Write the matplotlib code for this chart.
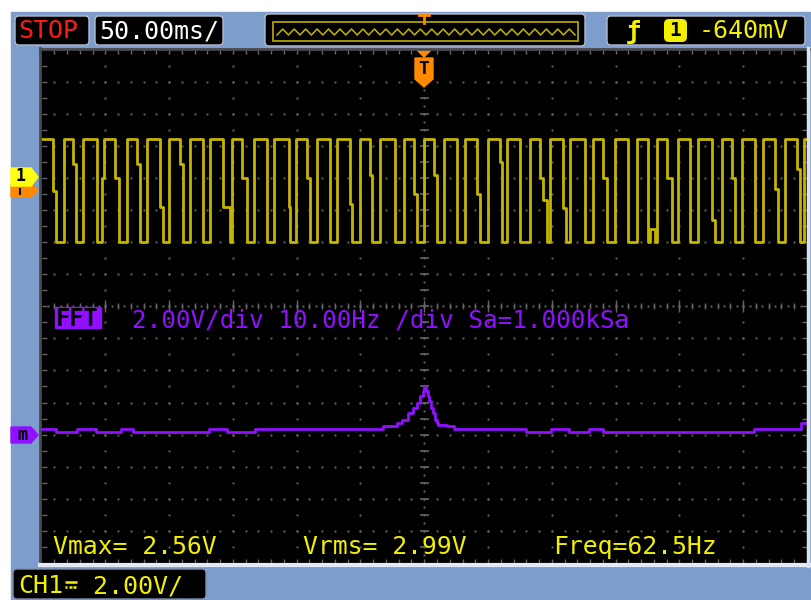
import matplotlib
matplotlib.use("Agg")
import matplotlib.pyplot as plt
import numpy as np
from matplotlib.patches import FancyBboxPatch, Polygon, Rectangle

# channel 1 trace: time (ms) where the level changes, level (V) from there on
ch1_t = [-300.0, -290.8, -289.0, -282.5, -275.2, -272.6, -267.3, -256.4, -252.5, -251.2,
         -242.0, -239.5, -232.9, -225.0, -222.5, -217.2, -206.8, -204.4, -200.3, -191.1,
         -189.0, -183.3, -173.1, -167.6, -157.7, -152.2, -150.4, -142.8, -138.9, -133.7,
         -123.2, -117.5, -106.3, -105.0, -100.3, -91.9, -89.3, -84.0, -73.6, -68.4,
         -58.0, -56.6, -50.1, -42.3, -41.0, -34.5, -22.7, -16.2, -8.4, -5.5,
         -0.5, 7.3, 9.9, 15.1, 25.6, 32.1, 41.3, 43.9, 50.1, 59.5,
         60.9, 64.8, 75.2, 83.0, 90.9, 93.4, 96.1, 98.7, 109.1, 111.2,
         114.4, 126.1, 132.6, 140.4, 143.1, 149.6, 160.0, 166.6, 175.7, 177.0,
         180.9, 182.7, 190.1, 194.0, 199.2, 208.4, 214.9, 225.4, 227.9, 233.2,
         241.0, 243.6, 248.9, 259.3, 265.8, 274.9, 277.5, 282.8, 291.9, 294.5,
         297.3, 299.5]
ch1_v = [1.2, -0.4, -2.0, 1.2, 0.44, -2.0, 1.2, -2.0, 0.0, 1.2,
         0.0, -2.0, 1.2, 0.44, -2.0, 1.2, -0.9, -2.0, 1.2, 0.44,
         -2.0, 1.2, -2.0, 1.2, -0.9, -2.0, 1.2, 0.0, -2.0, 1.2,
         -2.0, 1.2, -0.9, -2.0, 1.2, 0.0, -2.0, 1.2, -2.0, 1.2,
         -0.8, -2.0, 1.2, 0.1, -2.0, 1.2, -2.0, 1.2, -0.5, -2.0,
         1.2, 0.1, -2.0, 1.2, -2.0, 1.2, -0.5, -2.0, 1.2, 0.5,
         -2.0, 1.2, -2.0, 1.2, 0.0, -0.7, -2.0, 1.2, -0.95, -2.0,
         1.2, -2.0, 1.2, 0.0, -2.0, 1.2, -2.0, 1.2, -2.0, -1.6,
         -2.0, 1.2, 0.0, -2.0, 1.2, -2.0, 1.2, -1.3, -2.0, 1.2,
         0.0, -2.0, 1.2, -2.0, 1.2, -0.35, -2.0, 1.2, 0.28, -2.0,
         1.2, 1.2]

# FFT trace: frequency (Hz) where the level changes, magnitude (V)
fft_f = [2.5, 4.7, 8.1, 11.0, 14.9, 16.8, 28.7, 31.6, 36.0, 56.1, 58.3, 59.0,
         60.0, 60.8, 61.4, 61.9, 62.3, 62.5, 62.8, 63.1, 63.3, 63.6, 63.9, 64.2,
         64.5, 64.7, 66.0, 67.2, 78.5, 82.4, 85.2, 88.4, 90.5, 114.2, 121.6, 122.5]
fft_v = [0.16, 0.07, 0.16, 0.07, 0.18, 0.07, 0.18, 0.08, 0.18, 0.26, 0.36, 0.47,
         0.68, 0.83, 0.99, 1.20, 1.35, 1.47, 1.35, 1.20, 1.04, 0.83, 0.68, 0.47,
         0.36, 0.31, 0.26, 0.18, 0.07, 0.18, 0.07, 0.18, 0.07, 0.18, 0.375, 0.375]

time_per_div = 50.0      # ms
ch1_volts_per_div = 2.0
ch1_offset_div = 2.0
fft_volts_per_div = 2.0
fft_offset_div = -2.0
fft_hz_per_div = 10.0
fft_center = 62.5

fft_label = "2.00V/div 10.00Hz /div Sa=1.000kSa"
measurements = ["Vmax= 2.56V", "Vrms= 2.99V", "Freq=62.5Hz"]
ch_name = "CH1"
ch_scale = " 2.00V/"   # after the DC coupling sign, which no installed font has

BLUE = '#7d9dcc'
YEL = '#f2f000'
TRACE = '#c4b400'
PURP = '#9010ff'
ORANGE = '#ff8a00'
GRID = '#666666'
MONO = 'DejaVu Sans Mono'

W, H = 812, 600
fig = plt.figure(figsize=(W / 100, H / 100), dpi=100)
fig.patch.set_facecolor('white')


def px_axes(z):
    a = fig.add_axes([0, 0, 1, 1], zorder=z)
    a.set_xlim(0, W)
    a.set_ylim(H, 0)
    a.axis('off')
    a.patch.set_alpha(0)
    return a


def rbox(ax, x0, y0, x1, y1, fc, ec='none', r=4, lw=1):
    ax.add_patch(FancyBboxPatch((x0, y0), x1 - x0, y1 - y0,
                                boxstyle='round,pad=0,rounding_size=%g' % r,
                                fc=fc, ec=ec, lw=lw))


bg = px_axes(0)
bg.add_patch(Rectangle((11, 12), W - 11, H - 12, color=BLUE))

# scope screen, in divisions
L, R, T, B = 41.5, 807, 49.5, 563
rect = [L / W, 1 - B / H, (R - L) / W, (B - T) / H]
scr = fig.add_axes(rect, zorder=1)
scr.set_facecolor('black')
scr.set_xlim(-6, 6)
scr.set_ylim(-4, 4)
scr.set_xticks([])
scr.set_yticks([])
for s in scr.spines.values():
    s.set_visible(False)

dot = dict(ls='none', marker='s', ms=1.4, mew=0, color=GRID)
xs = np.arange(-5.8, 5.81, 0.2)
ys = np.arange(-3.75, 3.76, 0.25)
for y in np.arange(-3.5, 3.51, 0.5):
    if abs(y) > 0.01:
        scr.plot(xs, np.full_like(xs, y), **dot)
for x in range(-5, 6):
    if x != 0:
        scr.plot(np.full_like(ys, x), ys, **dot)
# centre cross
fine = np.arange(-5.9, 5.91, 0.1)
scr.plot(fine, np.zeros_like(fine), **dot)
scr.vlines(xs, -0.05, 0.05, color=GRID, lw=1)
scr.vlines(np.arange(-5, 6), -0.09, 0.09, color=GRID, lw=1)
finey = np.arange(-3.875, 3.88, 0.125)
scr.plot(np.zeros_like(finey), finey, **dot)
scr.hlines(ys, -0.07, 0.07, color=GRID, lw=1.2)
# edge ticks
scr.vlines(xs, 3.93, 4, color=GRID, lw=1)
scr.vlines(xs, -4, -3.93, color=GRID, lw=1)
scr.hlines(ys, -6, -5.92, color=GRID, lw=1)
scr.hlines(ys, 5.92, 6, color=GRID, lw=1)

# channel 1
ax1 = fig.add_axes(rect, zorder=2)
ax1.set_xlim(-6 * time_per_div, 6 * time_per_div)
ax1.set_ylim((-4 - ch1_offset_div) * ch1_volts_per_div, (4 - ch1_offset_div) * ch1_volts_per_div)
ax1.axis('off')
ax1.patch.set_alpha(0)
ax1.plot(ch1_t, ch1_v, drawstyle='steps-post', color=TRACE, lw=2)

# FFT
axf = fig.add_axes(rect, zorder=3)
axf.set_xlim(fft_center - 6 * fft_hz_per_div, fft_center + 6 * fft_hz_per_div)
axf.set_ylim((-4 - fft_offset_div) * fft_volts_per_div, (4 - fft_offset_div) * fft_volts_per_div)
axf.axis('off')
axf.patch.set_alpha(0)
axf.plot(fft_f, fft_v, drawstyle='steps-post', color=PURP, lw=2)

ui = px_axes(5)
# screen frame
ui.plot([40, 809], [49, 49], color='#4a4a4a', lw=2)
ui.plot([40.5, 40.5], [48, 565], color='#4a4a4a', lw=2)
ui.plot([40, 810], [564.5, 564.5], color='#e4eaf4', lw=3)
ui.plot([808.5, 808.5], [48, 566], color='#dce3ee', lw=2.5)

# top bar
rbox(ui, 15, 16, 89, 45, 'black', '#b4bccc')
ui.text(18, 38.5, 'STOP', color='#ff1a1a', family=MONO, fontsize=18)
rbox(ui, 95, 16, 223, 45, 'black', '#b4bccc')
ui.text(99, 38.5, '50.00ms/', color='white', family=MONO, fontsize=18)
rbox(ui, 265, 14, 585, 46, 'black', '#b4bccc')
ui.add_patch(Rectangle((273, 22), 305, 19, fill=False, ec='#b0a000', lw=1.3))
zx = np.linspace(277, 575, 53)
zy = np.where(np.arange(53) % 2 == 0, 35, 29)
ui.plot(zx, zy, color='#c4b400', lw=1.1)
ui.plot([419, 429], [15, 15], color=ORANGE, lw=2)
ui.plot([424, 424], [15, 23], color=ORANGE, lw=2)
rbox(ui, 607, 16, 805, 45, 'black', '#b4bccc')
ui.text(626, 38.5, '\u0192', color=YEL, family=MONO, fontsize=18, weight='bold')
rbox(ui, 664, 19, 687, 42, YEL, r=5)
ui.text(675.5, 31, '1', color='black', family=MONO, fontsize=14, weight='bold',
        ha='center', va='center')
ui.text(699, 38.5, '-640mV', color=YEL, family=MONO, fontsize=18)

# trigger marker on screen
ui.add_patch(Polygon([(417, 50), (431, 50), (424, 57)], color=ORANGE))
ui.add_patch(Polygon([(415, 58), (433, 58), (433, 79), (424, 87), (415, 79)], color=ORANGE))
ui.text(424, 69, 'T', color='black', family=MONO, fontsize=13, weight='bold',
        ha='center', va='center')

# channel markers
ui.add_patch(Polygon([(11, 184), (31, 184), (38, 190.5), (31, 197), (11, 197)], color=ORANGE))
ui.add_patch(Polygon([(11, 168), (31, 168), (38, 177), (31, 186), (11, 186)], color='#ffff10'))
ui.text(21, 176, '1', color='black', family=MONO, fontsize=12, weight='bold',
        ha='center', va='center')
ui.plot([20, 20], [189, 194], color='black', lw=1.5)
ui.add_patch(Polygon([(11, 427), (31, 427), (38, 435), (31, 443), (11, 443)], color=PURP))
ui.text(22, 434.5, 'm', color='black', family=MONO, fontsize=12, weight='bold',
        ha='center', va='center')

# FFT header
ui.add_patch(Rectangle((55, 307), 46, 21, color=PURP))
ui.text(56, 326, 'FFT', color='black', family=MONO, fontsize=17, weight='bold')
ui.text(132, 327.5, fft_label, color=PURP, family=MONO, fontsize=17.5)

# measurements
for x, s in zip([53, 303, 553], measurements):
    ui.text(x, 554, s, color=YEL, family=MONO, fontsize=17.8)

# channel scale, with the DC sign (solid bar over a dashed bar) drawn as a shape
rbox(ui, 13, 569, 206, 599, 'black', '#8090b0')
cw = 15.05
ui.text(18, 593, ch_name, color=YEL, family=MONO, fontsize=18)
sx = 18 + 3 * cw
ui.plot([sx + 1.5, sx + 13.5], [581.5, 581.5], color=YEL, lw=1.8, solid_capstyle='butt')
for k in range(3):
    ui.plot([sx + 1.5 + 4.4 * k, sx + 4.3 + 4.4 * k], [586.5, 586.5], color=YEL, lw=1.8,
            solid_capstyle='butt')
ui.text(18 + 4 * cw, 593, ch_scale, color=YEL, family=MONO, fontsize=18)

fig.savefig('out.png', dpi=100)
